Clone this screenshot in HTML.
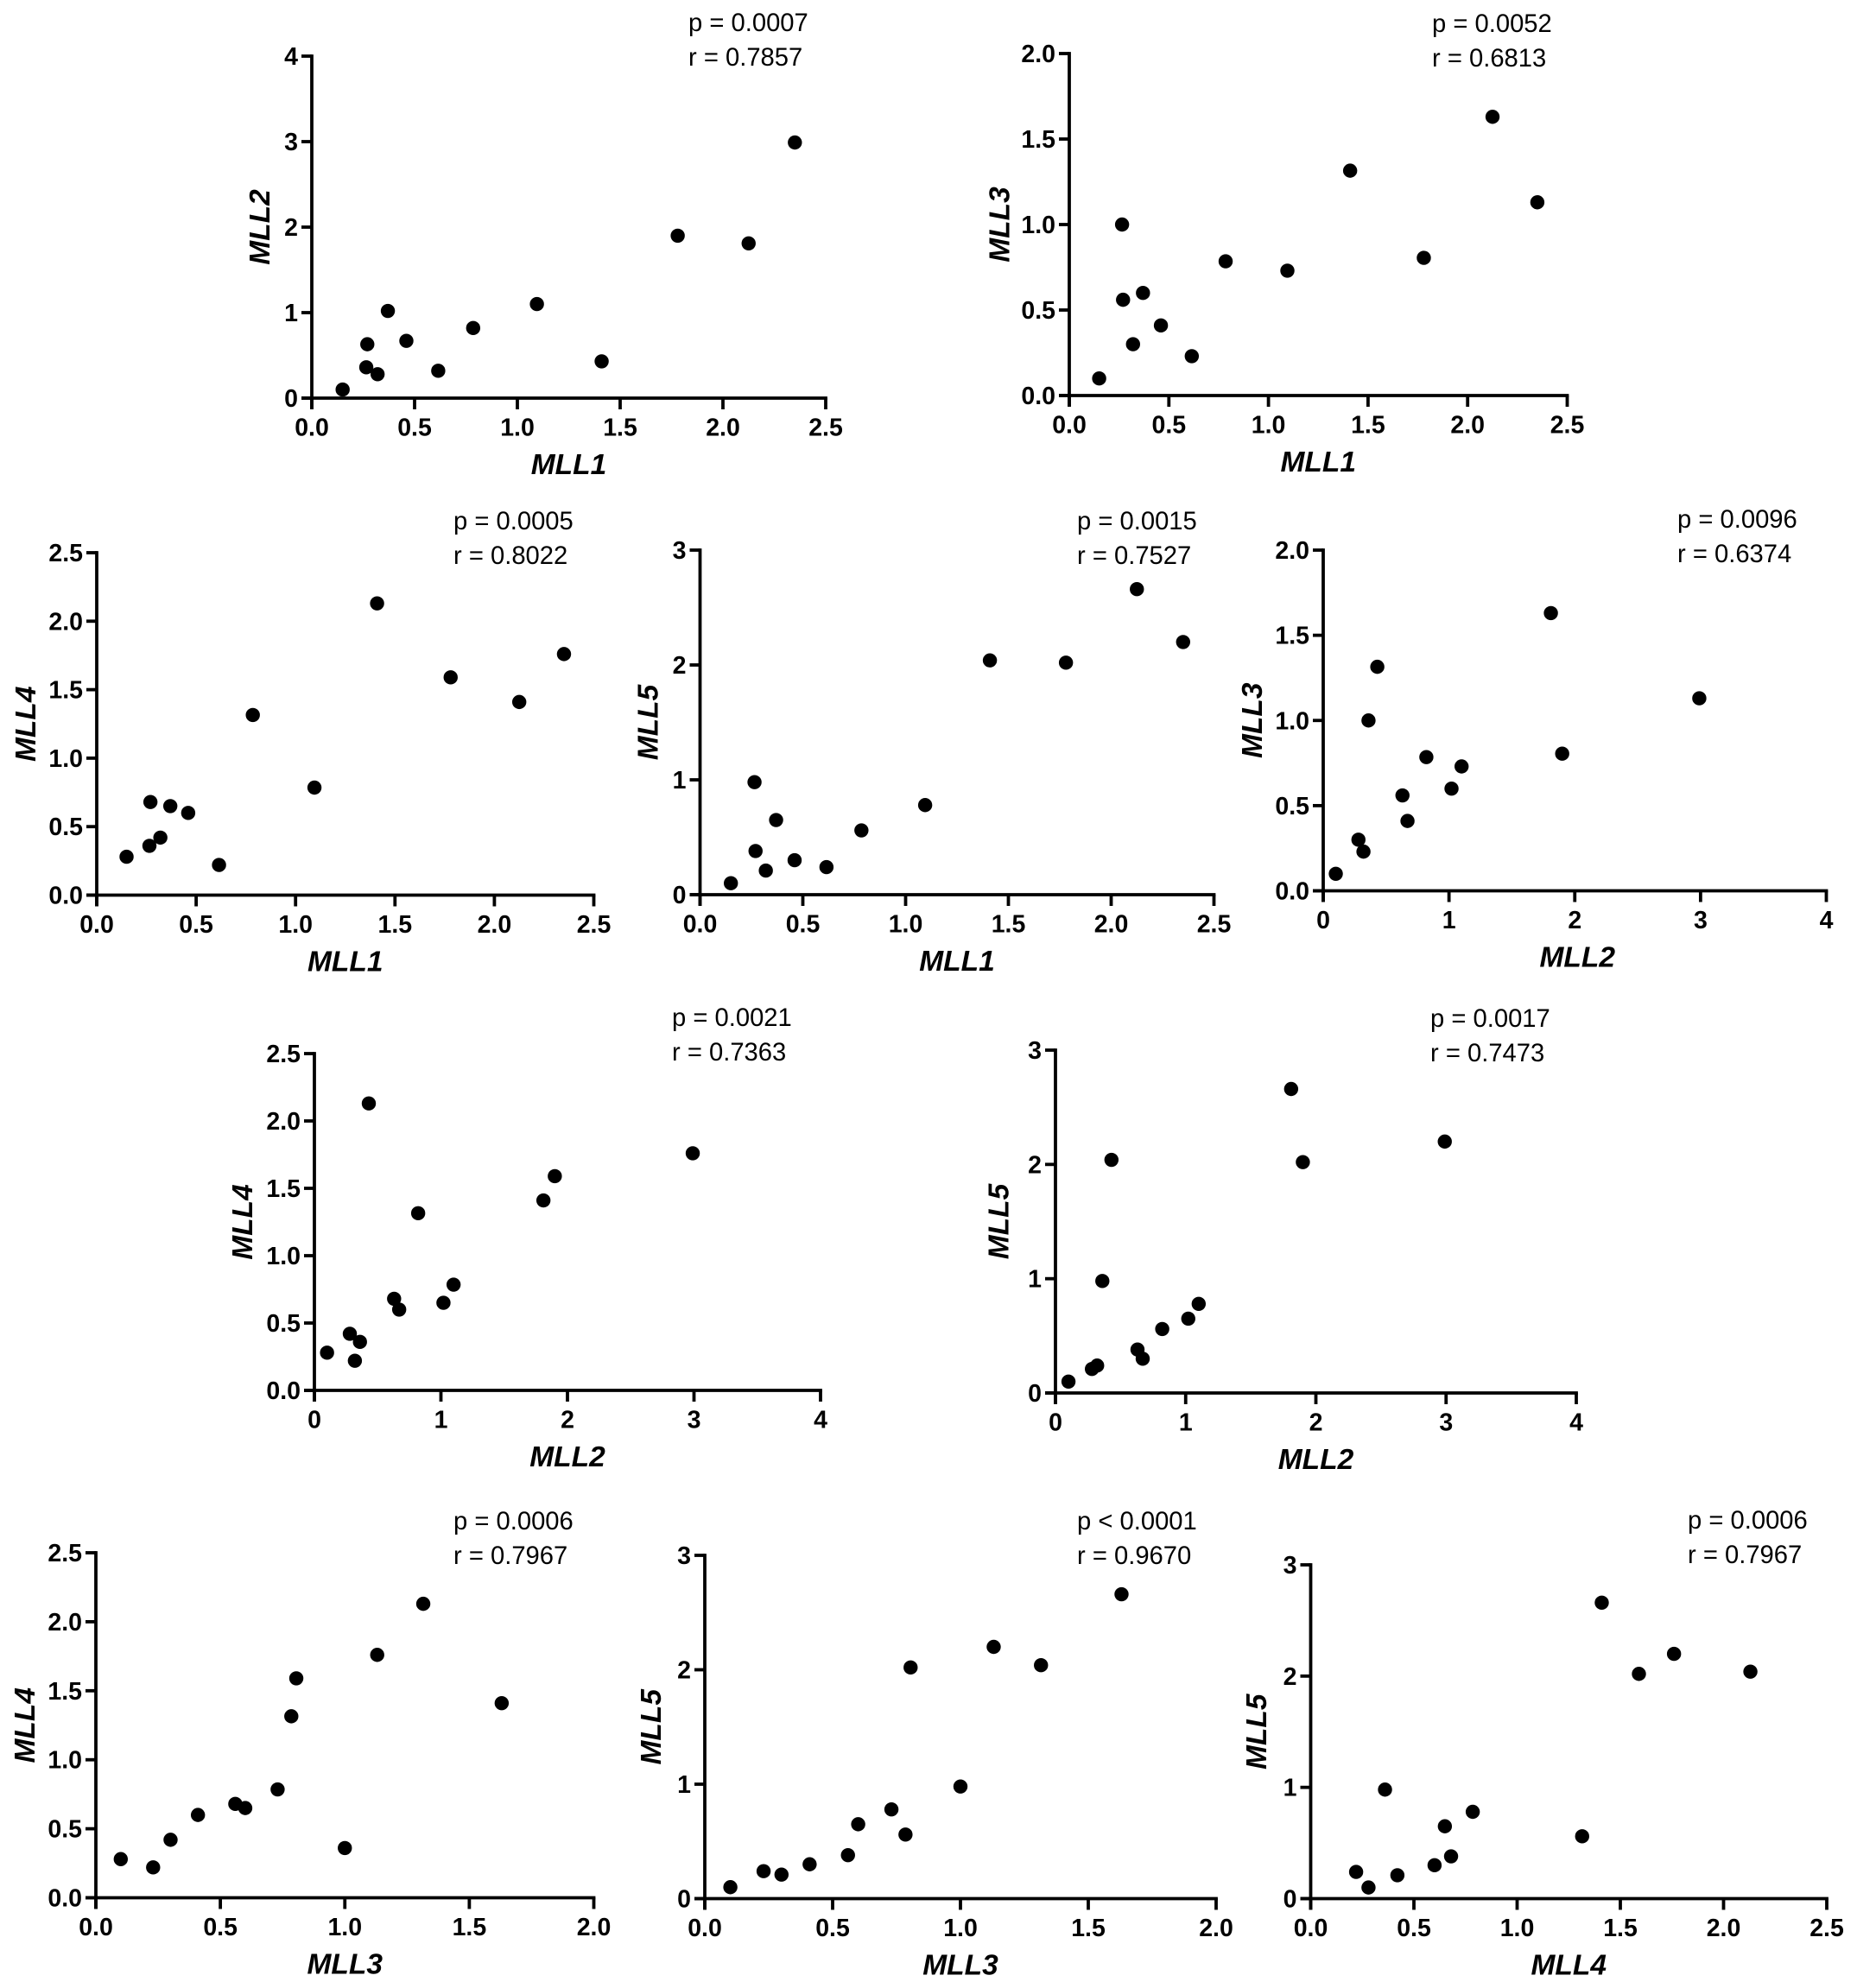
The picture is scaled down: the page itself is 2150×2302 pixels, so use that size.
<!DOCTYPE html>
<html>
<head>
<meta charset="utf-8">
<title>MLL gene correlation scatter plots</title>
<style>
html,body{margin:0;padding:0;background:#fff;}
svg{display:block;font-family:"Liberation Sans",Arial,sans-serif;}
</style>
</head>
<body>
<svg id="figure" xmlns="http://www.w3.org/2000/svg" width="2150" height="2302" viewBox="0 0 2150 2302"></svg>
<script>
// Sample values, one array per gene (same sample order in each array)
const MLL1 = [0.15, 0.265, 0.27, 0.32, 0.37, 0.46, 0.615, 0.785, 1.095, 1.41, 1.78, 2.125, 2.35];
const MLL2 = [0.10, 0.36, 0.63, 0.28, 1.02, 0.67, 0.32, 0.82, 1.10, 0.43, 1.90, 1.81, 2.99];
const MLL3 = [0.10, 1.00, 0.56, 0.30, 0.60, 0.41, 0.23, 0.785, 0.73, 1.315, 0.805, 1.63, 1.13];
const MLL4 = [0.28, 0.36, 0.68, 0.42, 0.65, 0.60, 0.22, 1.315, 0.785, 2.13, 1.59, 1.41, 1.76];
const MLL5 = [0.10, 0.98, 0.38, 0.21, 0.65, 0.30, 0.24, 0.56, 0.78, 2.04, 2.02, 2.66, 2.20];

// Tick labels
const ticks2 = ['0.0', '0.5', '1.0', '1.5', '2.0'];
const ticks25 = ['0.0', '0.5', '1.0', '1.5', '2.0', '2.5'];
const ticks3 = ['0', '1', '2', '3'];
const ticks4 = ['0', '1', '2', '3', '4'];

// Printed statistics, per panel
const pLabels = ['p = 0.0007', 'p = 0.0052', 'p = 0.0005', 'p = 0.0015', 'p = 0.0096', 'p = 0.0021', 'p = 0.0017', 'p = 0.0006', 'p < 0.0001', 'p = 0.0006'];
const rLabels = ['r = 0.7857', 'r = 0.6813', 'r = 0.8022', 'r = 0.7527', 'r = 0.6374', 'r = 0.7363', 'r = 0.7473', 'r = 0.7967', 'r = 0.9670', 'r = 0.7967'];

const NS = 'http://www.w3.org/2000/svg';
const svg = document.getElementById('figure');

function make(parent, tag, attrs) {
  const el = document.createElementNS(NS, tag);
  for (const k in attrs) el.setAttribute(k, attrs[k]);
  parent.appendChild(el);
  return el;
}

function drawPanel(i, nameX, xs, xTicks, nameY, ys, yTicks, box, statX, statY, yTitleOff, xTitleOff) {
  const g = make(svg, 'g', {});
  
  

  const xMax = parseFloat(xTicks[xTicks.length - 1]);
  const yMax = parseFloat(yTicks[yTicks.length - 1]);
  const sx = v => box.left + (v / xMax) * (box.right - box.left);
  const sy = v => box.bottom - (v / yMax) * (box.bottom - box.top);
  const xTick = 13;
  const yTick = 12;
  const lw = 3.8;

  const yAxis = make(g, 'line', {x1: box.left, x2: box.left, y1: box.top - lw / 2, y2: box.bottom + xTick, stroke: '#000', 'stroke-width': lw});
  
  
  const xAxis = make(g, 'line', {x1: box.left - yTick, x2: box.right + lw / 2, y1: box.bottom, y2: box.bottom, stroke: '#000', 'stroke-width': lw});
  
  

  xTicks.forEach(label => {
    const v = parseFloat(label);
    const x = sx(v);
    const t = make(g, 'line', {x1: x, x2: x, y1: box.bottom, y2: box.bottom + xTick, stroke: '#000', 'stroke-width': lw});
    
    
    const txt = make(g, 'text', {x: x, y: box.bottom + 43.5, 'text-anchor': 'middle', 'font-size': 28.5, 'font-weight': 'bold', fill: '#000'});
    txt.textContent = label;
    
    
  });
  yTicks.forEach(label => {
    const v = parseFloat(label);
    const y = sy(v);
    const t = make(g, 'line', {x1: box.left - yTick, x2: box.left, y1: y, y2: y, stroke: '#000', 'stroke-width': lw});
    
    
    const txt = make(g, 'text', {x: box.left - 16, y: y + 10, 'text-anchor': 'end', 'font-size': 28.5, 'font-weight': 'bold', fill: '#000'});
    txt.textContent = label;
    
    
  });

  xs.forEach((v, j) => {
    const c = make(g, 'circle', {cx: sx(v), cy: sy(ys[j]), r: 8.2, fill: '#000'});
    
    
  });

  const xt = make(g, 'text', {x: (box.left + box.right) / 2 + xTitleOff, y: box.bottom + 88, 'text-anchor': 'middle', 'font-size': 33.5, 'font-weight': 'bold', 'font-style': 'italic', fill: '#000'});
  xt.textContent = nameX;
  
  

  const ty = (box.top + box.bottom) / 2;
  const tx = box.left - yTitleOff + 11;
  const yt = make(g, 'text', {x: tx, y: ty, transform: 'rotate(-90 ' + tx + ' ' + ty + ')', 'text-anchor': 'middle', 'font-size': 33.5, 'font-weight': 'bold', 'font-style': 'italic', fill: '#000'});
  yt.textContent = nameY;
  
  

  const pt = make(g, 'text', {x: statX, y: statY, 'font-size': 29.2, fill: '#000'});
  pt.textContent = pLabels[i];
  
  
  const rt = make(g, 'text', {x: statX, y: statY + 40, 'font-size': 29.2, fill: '#000'});
  rt.textContent = rLabels[i];
  
  
}

drawPanel(0, 'MLL1', MLL1, ticks25, 'MLL2', MLL2, ticks4,  {left: 361,  right: 956,    top: 65,   bottom: 461},    797,  36,   60, 0);
drawPanel(1, 'MLL1', MLL1, ticks25, 'MLL3', MLL3, ticks2,  {left: 1238, right: 1814.5, top: 62,   bottom: 458},    1658, 37,   80.5, 0);
drawPanel(2, 'MLL1', MLL1, ticks25, 'MLL4', MLL4, ticks25, {left: 112,  right: 687.5,  top: 640,  bottom: 1036.5},  525,  613,  82, 0);
drawPanel(3, 'MLL1', MLL1, ticks25, 'MLL5', MLL5, ticks3,  {left: 810.5, right: 1405.5, top: 637, bottom: 1036},   1247, 613,  60, 0);
drawPanel(4, 'MLL2', MLL2, ticks4,  'MLL3', MLL3, ticks2,  {left: 1532, right: 2114.5, top: 637,  bottom: 1031.5},  1942, 611,  82, 3);
drawPanel(5, 'MLL2', MLL2, ticks4,  'MLL4', MLL4, ticks25, {left: 364,  right: 950,    top: 1220, bottom: 1610},   778,  1188, 83, 0);
drawPanel(6, 'MLL2', MLL2, ticks4,  'MLL5', MLL5, ticks3,  {left: 1222, right: 1825,   top: 1216, bottom: 1613},   1656, 1189, 65.5, 0);
drawPanel(7, 'MLL3', MLL3, ticks2,  'MLL4', MLL4, ticks25, {left: 111,  right: 687.5,  top: 1798, bottom: 2197.5},  525,  1771, 82, 0);
drawPanel(8, 'MLL3', MLL3, ticks2,  'MLL5', MLL5, ticks3,  {left: 816,  right: 1408,   top: 1801, bottom: 2198.5},  1247, 1771, 62, 0);
drawPanel(9, 'MLL4', MLL4, ticks25, 'MLL5', MLL5, ticks3,  {left: 1517.5, right: 2115, top: 1812, bottom: 2198.5},  1954, 1770, 62.5, 0);
</script>
</body>
</html>
